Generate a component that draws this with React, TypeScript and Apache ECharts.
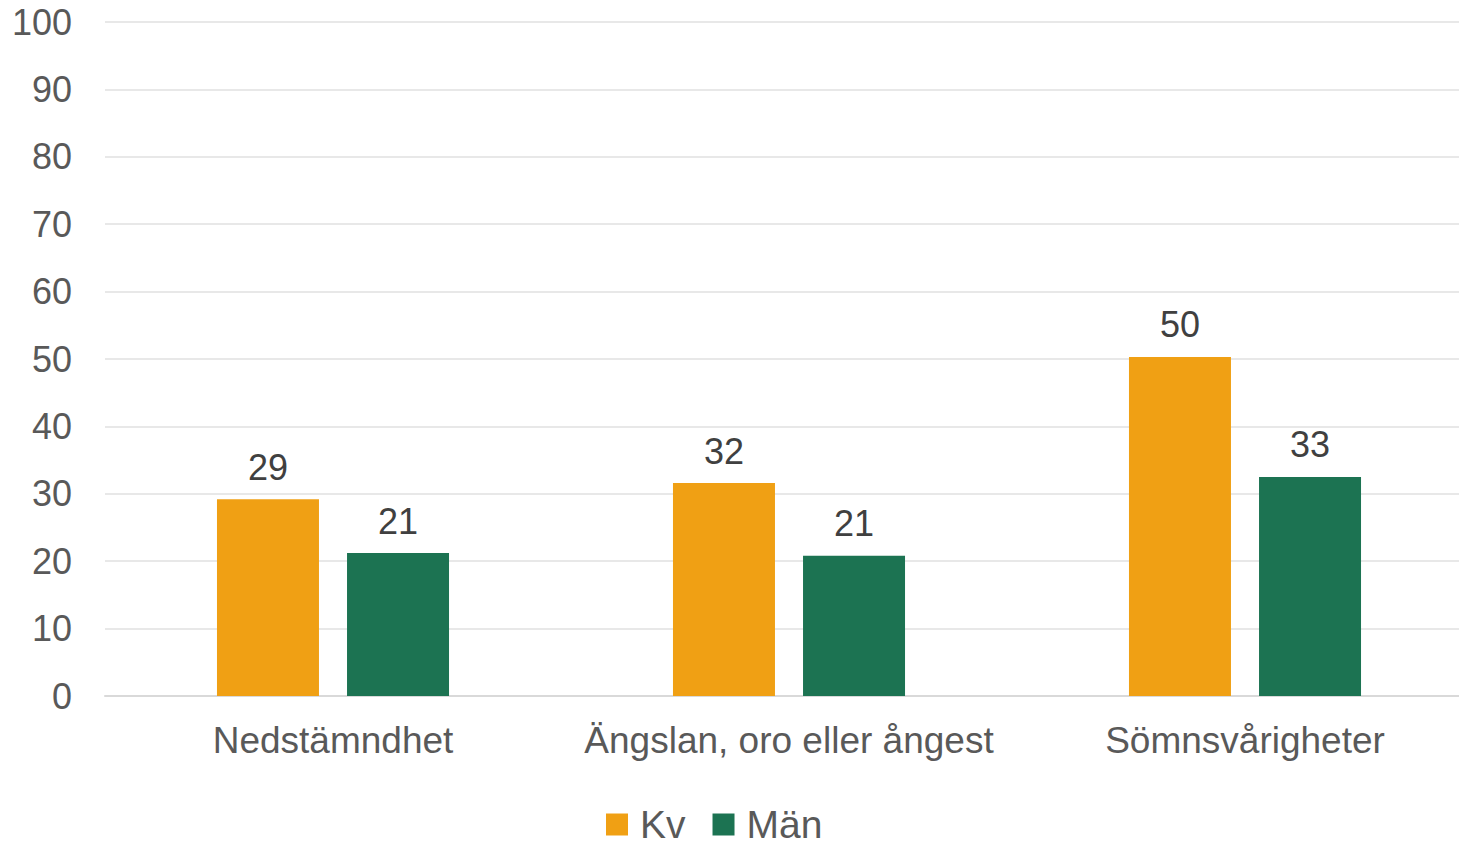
import React, { useEffect, useRef } from "react";
import * as echarts from "echarts";

const categories = ["Nedstämndhet", "Ängslan, oro eller ångest", "Sömnsvårigheter"];
const kvValues = [29.2, 31.6, 50.3];
const manValues = [21.2, 20.8, 32.5];
const seriesNames = ["Kv", "Män"];

export default function App() {
  const ref = useRef<HTMLDivElement>(null);
  useEffect(() => {
    document.body.style.margin = "0";
    const chart = echarts.init(ref.current!, null, { renderer: "svg" });
    const font = "Liberation Sans, Arial, sans-serif";
    const label = {
      show: true,
      position: "top" as const,
      distance: 14,
      color: "#404040",
      fontSize: 36,
      fontFamily: font,
      formatter: (p: any) => String(Math.round(p.value)),
    };
    chart.setOption({
      animation: false,
      grid: {
        left: 105,
        width: 1368,
        top: 22,
        bottom: 150,
        containLabel: false,
        outerBoundsMode: "none",
      },
      legend: {
        bottom: -3,
        left: 601,
        itemWidth: 22,
        itemHeight: 22,
        itemGap: 27,
        icon: "rect",
        textStyle: { fontSize: 39, color: "#595959", fontFamily: font, padding: [0, 0, 0, 7] },
        data: seriesNames,
      },
      xAxis: {
        type: "category",
        data: categories,
        axisLine: { lineStyle: { color: "#d9d9d9", width: 2 } },
        axisTick: { show: false },
        axisLabel: { fontSize: 37, color: "#595959", fontFamily: font, margin: 26, interval: 0 },
      },
      yAxis: {
        type: "value",
        min: 0,
        max: 100,
        interval: 10,
        axisLine: { show: false },
        axisTick: { show: false },
        splitLine: { lineStyle: { color: "#e8e8e8", width: 2 } },
        axisLabel: { fontSize: 36, color: "#595959", fontFamily: font, margin: 33 },
      },
      series: [
        {
          name: seriesNames[0],
          type: "bar",
          data: kvValues,
          barWidth: 102,
          barGap: "27.5%",
          itemStyle: { color: "#F0A014" },
          label,
        },
        {
          name: seriesNames[1],
          type: "bar",
          data: manValues,
          barWidth: 102,
          barGap: "27.5%",
          itemStyle: { color: "#1C7352" },
          label,
        },
      ],
    });
    return () => chart.dispose();
  }, []);
  return <div ref={ref} style={{ width: 1459, height: 846 }} />;
}
